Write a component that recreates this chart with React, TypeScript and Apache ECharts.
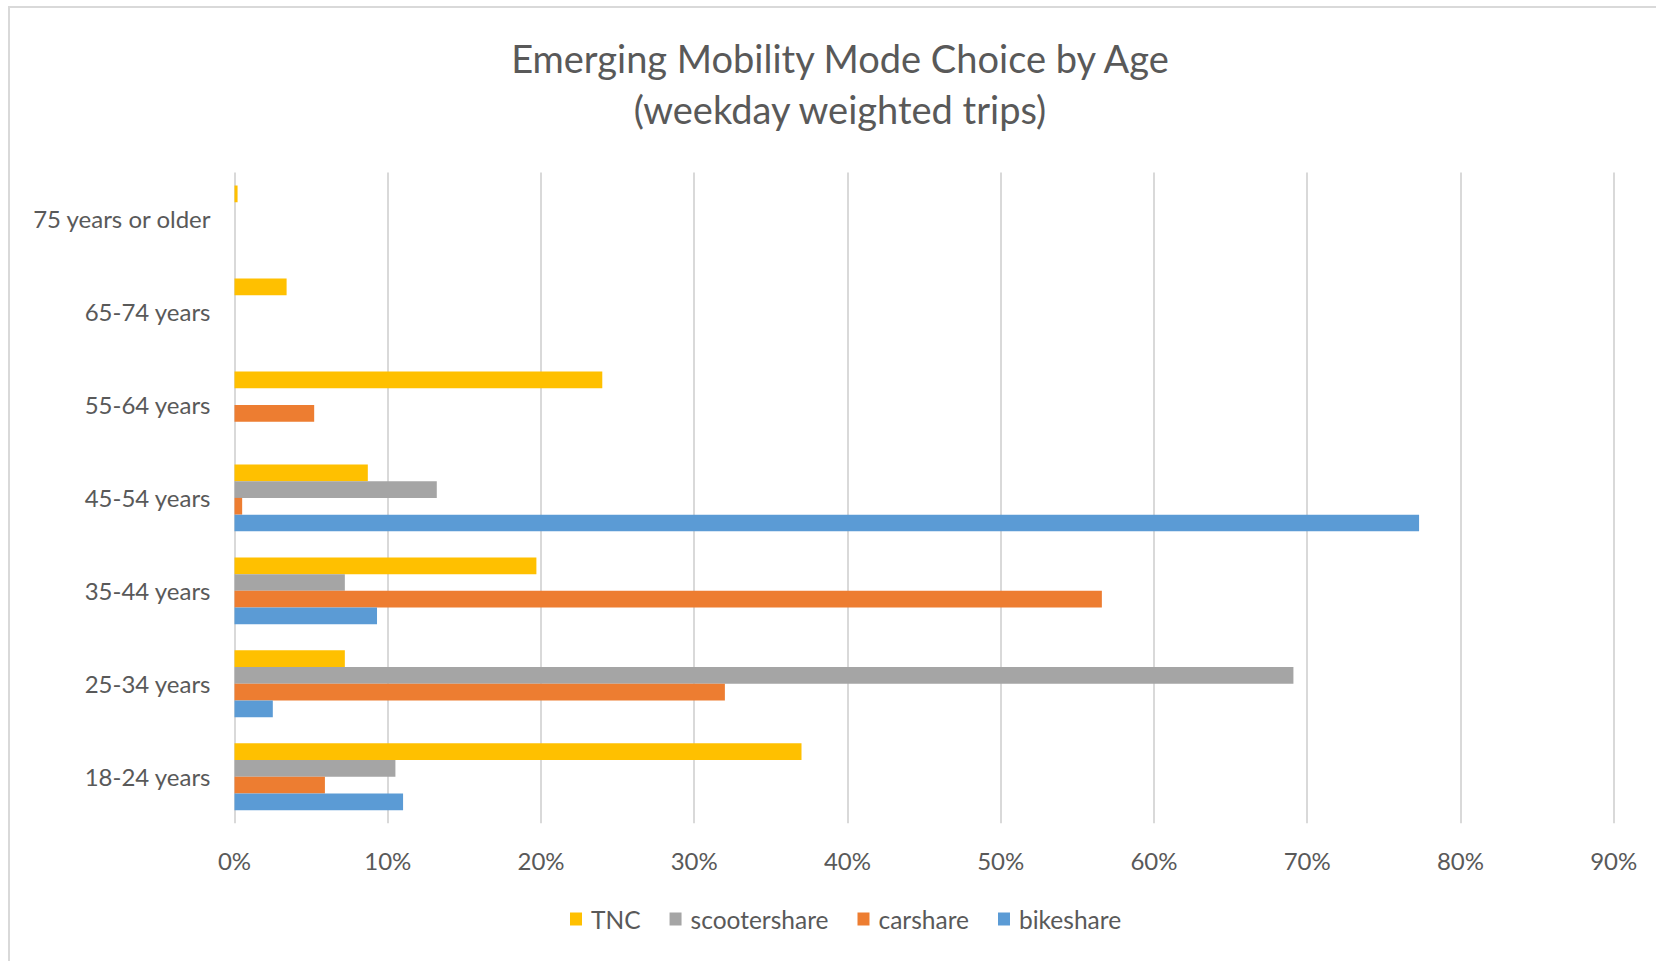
import React, { useEffect, useRef } from "react";
import * as echarts from "echarts";

const categories = [
  "18-24 years",
  "25-34 years",
  "35-44 years",
  "45-54 years",
  "55-64 years",
  "65-74 years",
  "75 years or older",
];
const tncValues = [37.0, 7.2, 19.7, 8.7, 24.0, 3.4, 0.2];
const scootershareValues = [10.5, 69.1, 7.2, 13.2, 0, 0, 0];
const carshareValues = [5.9, 32.0, 56.6, 0.5, 5.2, 0, 0];
const bikeshareValues = [11.0, 2.5, 9.3, 77.3, 0, 0, 0];
const xTicks = [0, 10, 20, 30, 40, 50, 60, 70, 80, 90];

const FONT = "Lato";
const TEXT = "#595959";

export default function App() {
  const ref = useRef<HTMLDivElement>(null);
  useEffect(() => {
    if (!ref.current) return;
    const chart = echarts.init(ref.current, null, { renderer: "svg" });
    const seriesDefs = [
      { name: "TNC", data: tncValues, color: "#FFC000" },
      { name: "scootershare", data: scootershareValues, color: "#A5A5A5" },
      { name: "carshare", data: carshareValues, color: "#ED7D31" },
      { name: "bikeshare", data: bikeshareValues, color: "#5B9BD5" },
    ];
    chart.setOption({
      animation: false,
      backgroundColor: "#ffffff",
      textStyle: { fontFamily: FONT },
      title: {
        text: "Emerging Mobility Mode Choice by Age\n(weekday weighted trips)",
        left: 835,
        top: 27,
        textAlign: "center",
        textStyle: {
          fontFamily: FONT,
          fontSize: 38,
          fontWeight: "normal",
          color: TEXT,
          lineHeight: 51,
        },
      },
      legend: {
        data: seriesDefs.map((s) => s.name),
        left: 570,
        top: 904,
        padding: 0,
        itemWidth: 12,
        itemHeight: 13,
        itemGap: 29,
        icon: "rect",
        textStyle: {
          fontFamily: FONT,
          fontSize: 24.5,
          color: TEXT,
          padding: [0, 0, 0, 4],
          lineHeight: 30,
        },
      },
      graphic: [
        {
          type: "rect",
          shape: { x: 9, y: 7, width: 1700, height: 1000 },
          style: { fill: "none", stroke: "#d9d9d9", lineWidth: 2 },
          silent: true,
        },
      ],
      grid: {
        left: 234.5,
        right: 42.3,
        top: 172.5,
        bottom: 137.7,
        containLabel: false,
        outerBoundsMode: "none",
      },
      xAxis: {
        type: "value",
        min: xTicks[0],
        max: xTicks[xTicks.length - 1],
        interval: 10,
        axisLine: { show: false },
        axisTick: { show: false },
        axisLabel: {
          formatter: "{value}%",
          fontFamily: FONT,
          fontSize: 24,
          color: TEXT,
          margin: 25,
        },
        splitLine: { show: true, lineStyle: { color: "#d9d9d9", width: 2 } },
      },
      yAxis: {
        type: "category",
        data: categories,
        axisLine: { show: false },
        axisTick: { show: false },
        axisLabel: {
          fontFamily: FONT,
          fontSize: 24,
          color: TEXT,
          margin: 24,
        },
        splitLine: { show: false },
      },
      series: seriesDefs.map((s) => ({
        name: s.name,
        type: "bar",
        data: s.data,
        barGap: "0%",
        barCategoryGap: "28%",
        itemStyle: { color: s.color },
      })),
    });
    return () => chart.dispose();
  }, []);
  return (
    <div
      ref={ref}
      style={{ position: "fixed", left: 0, top: 0, width: 1656, height: 961 }}
    />
  );
}
